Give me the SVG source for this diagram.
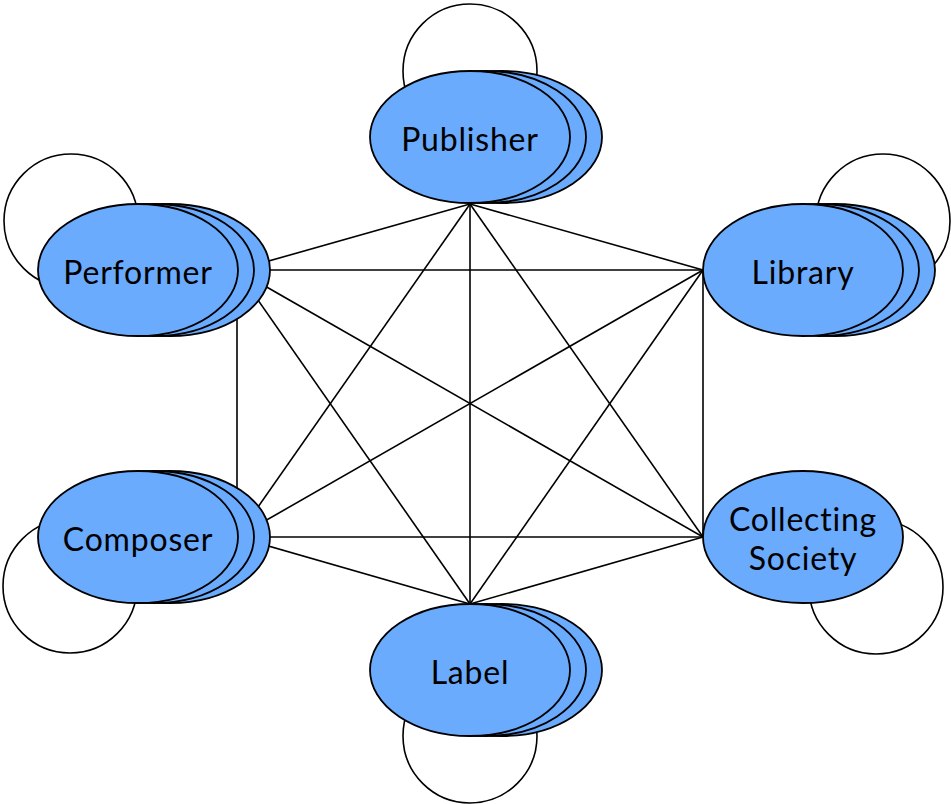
<svg xmlns="http://www.w3.org/2000/svg" width="951" height="804" viewBox="0 0 951 804">
<style>
.e{fill:#6aabfd;stroke:#000;stroke-width:1.8}
.loop{fill:none;stroke:#000;stroke-width:1.6}
.t{font-family:Lato,"Open Sans",sans-serif;font-size:32px;letter-spacing:0.8px;font-variant-ligatures:none;fill:#000;text-anchor:middle}
#edges line{stroke:#000;stroke-width:1.6}
</style>
<rect width="951" height="804" fill="#fff"/>
<g id="loops">
<circle class="loop" cx="470" cy="71" r="67"/>
<circle class="loop" cx="71" cy="221" r="67"/>
<circle class="loop" cx="883" cy="221" r="67"/>
<circle class="loop" cx="70" cy="586" r="67"/>
<circle class="loop" cx="876" cy="587" r="67"/>
<circle class="loop" cx="470" cy="736" r="67"/>
</g>
<g id="edges">
<line x1="470" y1="204" x2="237" y2="270"/>
<line x1="470" y1="204" x2="703" y2="270"/>
<line x1="470" y1="204" x2="237" y2="537"/>
<line x1="470" y1="204" x2="703" y2="537"/>
<line x1="470" y1="204" x2="470" y2="604"/>
<line x1="237" y1="270" x2="703" y2="270"/>
<line x1="237" y1="270" x2="237" y2="537"/>
<line x1="237" y1="270" x2="703" y2="537"/>
<line x1="237" y1="270" x2="470" y2="604"/>
<line x1="703" y1="270" x2="237" y2="537"/>
<line x1="703" y1="270" x2="703" y2="537"/>
<line x1="703" y1="270" x2="470" y2="604"/>
<line x1="237" y1="537" x2="703" y2="537"/>
<line x1="237" y1="537" x2="470" y2="604"/>
<line x1="703" y1="537" x2="470" y2="604"/>
</g>
<g id="publisher">
<ellipse class="e" cx="502" cy="137" rx="100" ry="66"/>
<ellipse class="e" cx="486" cy="137" rx="100" ry="66"/>
<ellipse class="e" cx="470" cy="137" rx="100" ry="66"/>
<text class="t" x="470" y="151">Publisher</text>
</g>
<g id="performer">
<ellipse class="e" cx="170" cy="270" rx="100" ry="66"/>
<ellipse class="e" cx="154" cy="270" rx="100" ry="66"/>
<ellipse class="e" cx="138" cy="270" rx="100" ry="66"/>
<text class="t" x="138" y="284">Performer</text>
</g>
<g id="library">
<ellipse class="e" cx="835" cy="270" rx="100" ry="66"/>
<ellipse class="e" cx="819" cy="270" rx="100" ry="66"/>
<ellipse class="e" cx="803" cy="270" rx="100" ry="66"/>
<text class="t" x="803" y="284">Library</text>
</g>
<g id="composer">
<ellipse class="e" cx="170" cy="537" rx="100" ry="66"/>
<ellipse class="e" cx="154" cy="537" rx="100" ry="66"/>
<ellipse class="e" cx="138" cy="537" rx="100" ry="66"/>
<text class="t" x="138" y="551">Composer</text>
</g>
<g id="collecting-society">
<ellipse class="e" cx="803" cy="537" rx="100" ry="66"/>
<text class="t" x="803" y="531">Collecting</text>
<text class="t" x="803" y="570">Society</text>
</g>
<g id="label">
<ellipse class="e" cx="502" cy="670" rx="100" ry="66"/>
<ellipse class="e" cx="486" cy="670" rx="100" ry="66"/>
<ellipse class="e" cx="470" cy="670" rx="100" ry="66"/>
<text class="t" x="470" y="684">Label</text>
</g>
</svg>
